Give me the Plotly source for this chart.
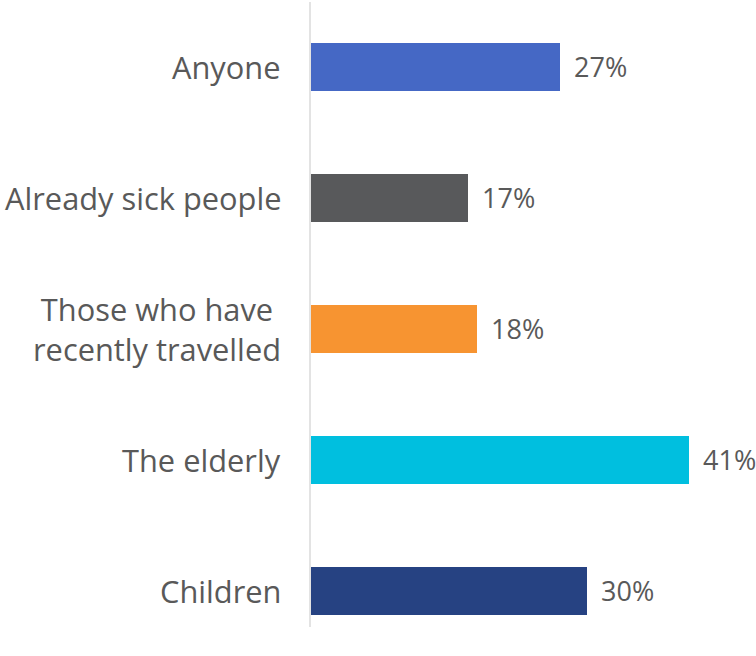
import plotly.graph_objects as go

# Share of respondents naming each group (top to bottom as displayed)
categories = ["Anyone", "Already sick people", "Those who have<br>recently travelled", "The elderly", "Children"]
values = [27, 17, 18, 41, 30]
colors = ["#4568C5", "#58595B", "#F79431", "#00BFDF", "#264282"]

# plot bottom-up so the first category sits on top
cats_bu = categories[::-1]
vals_bu = values[::-1]
cols_bu = colors[::-1]
ypos = list(range(len(cats_bu)))

FONT = "Open Sans"
GREY = "#595959"

fig = go.Figure(go.Bar(
    x=vals_bu, y=ypos, orientation="h",
    marker=dict(color=cols_bu, line=dict(width=0)),
    width=0.36, hoverinfo="skip",
))

annotations = []
for yi, cat, v in zip(ypos, cats_bu, vals_bu):
    # value label right of the bar
    annotations.append(dict(
        x=v, y=yi, xref="x", yref="y", text=f"{v}%", showarrow=False,
        xanchor="left", yanchor="middle", xshift=12,
        font=dict(family=FONT, size=27, color=GREY),
    ))
    # category label left of the axis, centred lines
    annotations.append(dict(
        x=0, y=yi, xref="paper", yref="y", text=cat, showarrow=False,
        xanchor="right", yanchor="middle", xshift=-28, align="center",
        font=dict(family=FONT, size=30.8, color=GREY),
    ))

fig.update_layout(
    width=756, height=656,
    margin=dict(l=311, r=3, t=2, b=29, pad=0),
    plot_bgcolor="white", paper_bgcolor="white",
    showlegend=False,
    xaxis=dict(range=[0, 48], visible=False, fixedrange=True),
    yaxis=dict(range=[-0.275, 4.496], showticklabels=False, showgrid=False,
               zeroline=False, showline=True, linecolor="#E3E3E3", linewidth=2,
               ticks=""),
    annotations=annotations,
    bargap=0,
)

fig.write_html("out.html")
